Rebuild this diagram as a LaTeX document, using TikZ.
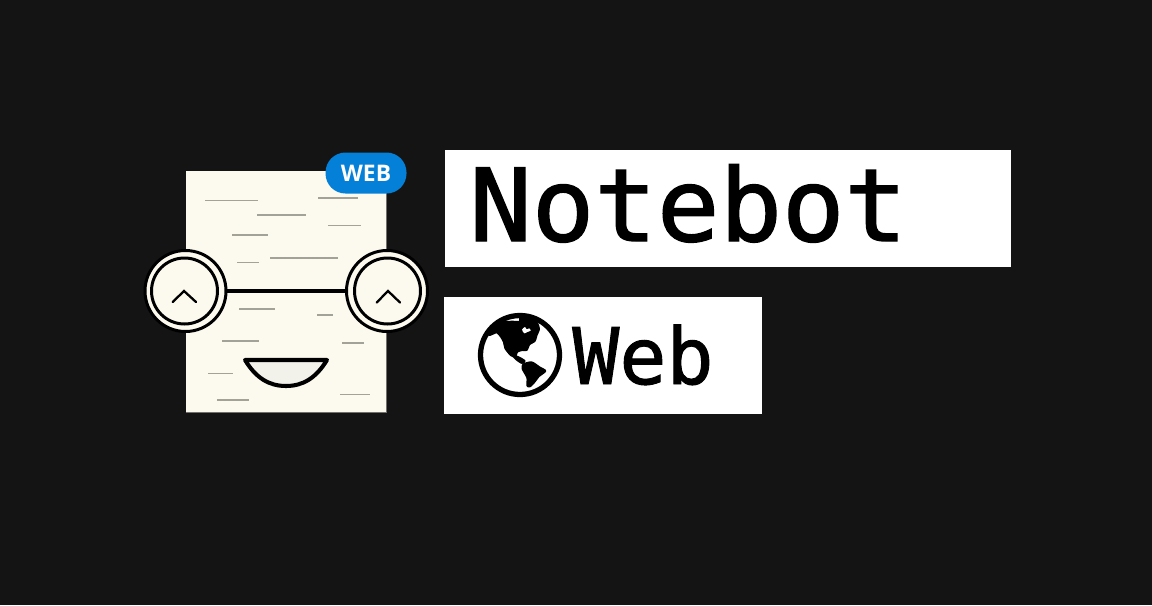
\documentclass[tikz,border=0pt]{standalone}
\usepackage{fontspec}
\newfontfamily\platefont[FakeBold=1.4,FakeStretch=1.03]{DejaVu Sans Mono}
\newfontfamily\webfont[FakeBold=1.2]{DejaVu Sans Mono}
\setsansfont{Open Sans}
\definecolor{bgdark}{HTML}{141414}
\definecolor{paper}{HTML}{FCFAEF}
\definecolor{mouthfill}{HTML}{F2F1EA}
\definecolor{scribble}{HTML}{A3A298}
\definecolor{badgeblue}{HTML}{0580D8}
\begin{document}
\begin{tikzpicture}[x=0.02cm, y=-0.02cm,
  inkline/.style={line width=2.3pt, black},
  note/.style={scribble, line width=0.6pt},
  lens/.style={circle, draw=black, line width=1.7pt, inner sep=0pt, minimum size=66*0.02cm},
  rim/.style={circle, draw=black, line width=1.7pt, fill=paper, inner sep=0pt, minimum size=81*0.02cm},
  chevron/.style={black, line width=1.3pt, line cap=round},
  plate/.style={fill=white, draw=none, inner sep=0pt, anchor=north west},
  land/.style={fill=black, draw=black, line width=1.1pt, line join=round}]
  % background
  \fill[bgdark] (0,0) rectangle (1152,605);
  \useasboundingbox (0,0) rectangle (1152,605);
  % paper
  \fill[black!55!paper] (186,171) rectangle (387,413);
  \fill[paper] (186,171) rectangle (386,412);
  % scribbles, upper half
  \draw[note] (205,200.5) -- (257.5,200.5);
  \draw[note] (318,198) -- (358,198);
  \draw[note] (257,215) -- (306,215);
  \draw[note] (328,225.5) -- (361,225.5);
  \draw[note] (232,235) -- (268,235);
  \draw[note] (237,262.5) -- (259,262.5);
  \draw[note] (270,258) -- (338,258);
  % scribbles, lower half
  \draw[note] (239,309) -- (275,309);
  \draw[note] (317,315) -- (333,315);
  \draw[note] (222,341) -- (259,341);
  \draw[note] (342,343) -- (364,343);
  \draw[note] (208,373.5) -- (233,373.5);
  \draw[note] (217,400) -- (249,400);
  \draw[note] (340,394.5) -- (370,394.5);
  % eyes
  \node[rim] (eyeleftrim) at (185.5,291) {};
  \node[lens] (eyeleft) at (184.5,291) {};
  \node[rim] (eyerightrim) at (387,291) {};
  \node[lens] (eyeright) at (387.5,291) {};
  \draw[inkline] (eyeleftrim) -- (eyerightrim);
  \draw[chevron] (172.7,302) -- (184,291) -- (196,302);
  \draw[chevron] (376.7,302.5) -- (388,291) -- (400,302.5);
  % mouth
  \draw[inkline, fill=mouthfill, line join=round] (245,360) -- (327,360)
    .. controls (316,378) and (303,386) .. (286,386)
    .. controls (269,386) and (256,378) .. (245,360) -- cycle;
  % badge
  \node[fill=badgeblue, rounded corners=20*0.02cm, minimum width=81*0.02cm, minimum height=41*0.02cm,
    inner sep=0pt, text=white, font=\sffamily\bfseries\fontsize{13}{13}\selectfont] (badge) at (366,173) {\raisebox{-1pt}{WEB}};
  % title plates
  \node[plate, minimum width=566*0.02cm, minimum height=117*0.02cm] (titleplate) at (445,150) {};
  \node[plate, minimum width=318*0.02cm, minimum height=117*0.02cm] (webplate) at (444,297) {};
  \node[anchor=base west, inner sep=0pt, font=\platefont\fontsize{57.4}{60}\selectfont] (title) at (469,241) {Notebot};
  \node[anchor=base west, inner sep=0pt, font=\webfont\fontsize{44.5}{45}\selectfont] (webtext) at (572,384) {Web};
  % globe
  \node[circle, draw=black, line width=3pt, inner sep=0pt, minimum size=79*0.02cm] (globe) at (520,355) {};
  \begin{scope}[shift={(470,305)}, x=0.02cm/3, y=-0.02cm/3]
    % north america
    \fill[land] plot[smooth cycle, tension=0.35] coordinates {(58,90) (80,82) (93,95) (102,112) (106,130)
      (122,150) (135,155) (142,140) (157,135) (170,135) (178,118) (194,108) (200,90) (207,72)
      (200,52) (175,36) (150,34) (150,50) (125,50) (100,52) (80,62)};
    \fill[white] plot[smooth cycle, tension=0.4] coordinates {(156,74) (165,66) (170,73) (178,70) (182,77) (172,81) (163,85)};
    % central america
    \fill[land] plot[smooth cycle, tension=0.4] coordinates {(128,150) (148,158) (164,168) (156,174) (140,164)};
    % south america
    \fill[land] plot[smooth cycle, tension=0.4] coordinates {(160,178) (185,172) (210,188) (226,198) (206,214)
      (194,230) (180,244) (172,242) (172,218) (158,192)};
  \end{scope}
\end{tikzpicture}
\end{document}
